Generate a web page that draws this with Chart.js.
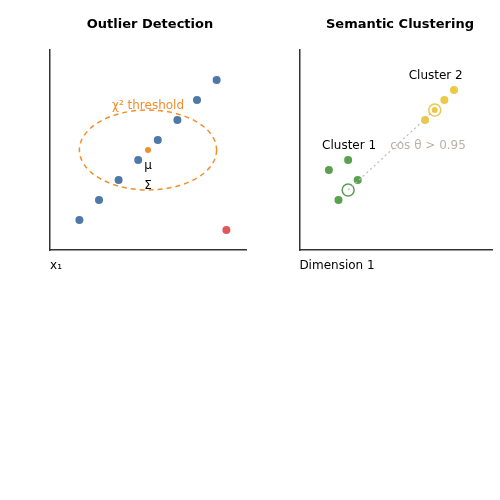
<!DOCTYPE html>
<html>
<head>
<script src="https://cdn.jsdelivr.net/npm/chart.js@4"></script>
<style>
  body { margin: 0; background: #fff; }
  .wrap { position: absolute; top: 0; width: 250px; height: 290px; }
</style>
</head>
<body>
<div class="wrap" style="left:0"><canvas id="left"></canvas></div>
<div class="wrap" style="left:250px"><canvas id="right"></canvas></div>
<script>
// data in plot units (0..200 both axes)
const inliers = [[30, 30], [50, 50], [70, 70], [90, 90], [110, 110], [130, 130], [150, 150], [170, 170]];
const outliers = [[180, 20]];
const meanPt = [[100, 100]];
const ellipse = { cx: 100, cy: 100, rx: 70, ry: 40 };

const cluster1 = [[30, 80], [50, 90], [40, 50], [60, 70]];
const cluster2 = [[130, 130], [150, 150], [160, 160]];
const centroid1 = [[50, 60]];
const centroid2 = [[140, 140]];

const font = 'DejaVu Sans, sans-serif';
const pts = (arr) => arr.map(([x, y]) => ({ x, y }));

const axes = {
  x: { type: 'linear', min: 0, max: 200, ticks: { display: false }, grid: { display: false, drawTicks: false }, border: { color: '#333', width: 1.5 } },
  y: { type: 'linear', min: 0, max: 200, ticks: { display: false }, grid: { display: false, drawTicks: false }, border: { color: '#333', width: 1.5 } },
};

// draw titles and text labels anchored to data coordinates
function textPlugin(title, labels, extra) {
  return {
    id: 'texts',
    afterDraw(chart) {
      const { ctx, scales } = chart;
      ctx.save();
      ctx.fillStyle = '#000';
      ctx.font = 'bold 13px ' + font;
      ctx.textAlign = 'center';
      ctx.textBaseline = 'middle';
      ctx.fillText(title, chart.chartArea.left + 100, 25);
      if (extra) extra(chart);
      labels.forEach((l) => {
        ctx.font = '12px ' + font;
        ctx.fillStyle = l.color;
        ctx.textAlign = 'center';
        const x = l.px != null ? l.px : scales.x.getPixelForValue(l.x);
        const y = l.py != null ? l.py : scales.y.getPixelForValue(l.y);
        ctx.fillText(l.text, x, y);
      });
      ctx.restore();
    },
  };
}

const layout = { padding: { left: 50, right: 0, top: 50, bottom: 40 } };

new Chart(document.getElementById('left'), {
  type: 'scatter',
  data: {
    datasets: [
      { data: pts(inliers), backgroundColor: '#4e79a7', pointRadius: 4, borderWidth: 0 },
      { data: pts(outliers), backgroundColor: '#e15759', pointRadius: 4, borderWidth: 0 },
      { data: pts(meanPt), backgroundColor: '#f28e2b', pointRadius: 3, borderWidth: 0 },
    ],
  },
  options: {
    animation: false, responsive: true, maintainAspectRatio: false, layout,
    plugins: { legend: { display: false }, tooltip: { enabled: false } },
    scales: axes,
  },
  plugins: [textPlugin('Outlier Detection', [
    { text: 'χ² threshold', x: 100, y: 144, color: '#f28e2b' },
    { text: 'μ', x: 100, y: 84, color: '#000' },
    { text: 'Σ', x: 100, y: 64, color: '#000' },
    { text: 'x₂', px: 266, py: 246, color: '#000' },
    { text: 'x₁', px: 56, py: 266, color: '#000' },
  ], (chart) => {
    const { ctx, scales } = chart;
    const cx = scales.x.getPixelForValue(ellipse.cx);
    const cy = scales.y.getPixelForValue(ellipse.cy);
    const rx = scales.x.getPixelForValue(ellipse.cx + ellipse.rx) - cx;
    const ry = cy - scales.y.getPixelForValue(ellipse.cy + ellipse.ry);
    ctx.beginPath();
    ctx.setLineDash([5, 4]);
    ctx.strokeStyle = '#f28e2b';
    ctx.lineWidth = 1.5;
    ctx.ellipse(cx, cy, rx, ry, 0, 0, Math.PI * 2);
    ctx.stroke();
    ctx.setLineDash([]);
  })],
});

new Chart(document.getElementById('right'), {
  type: 'scatter',
  data: {
    datasets: [
      { type: 'line', data: pts([centroid1[0], centroid2[0]]), borderColor: '#bbb', borderDash: [2, 3], borderWidth: 1.2, pointRadius: 0 },
      { data: pts(cluster1), backgroundColor: '#59a14f', pointRadius: 4, borderWidth: 0 },
      { data: pts(cluster2), backgroundColor: '#edc948', pointRadius: 4, borderWidth: 0 },
      { data: pts(centroid1), backgroundColor: 'rgba(0,0,0,0)', borderColor: '#59a14f', pointRadius: 6, borderWidth: 1.5 },
      { data: pts(centroid2), backgroundColor: '#edc948', pointRadius: 3, borderWidth: 0 },
      { data: pts(centroid2), backgroundColor: 'rgba(0,0,0,0)', borderColor: '#edc948', pointRadius: 6, borderWidth: 1.5 },
    ],
  },
  options: {
    animation: false, responsive: true, maintainAspectRatio: false, layout,
    plugins: { legend: { display: false }, tooltip: { enabled: false } },
    scales: axes,
  },
  plugins: [textPlugin('Semantic Clustering', [
    { text: 'Cluster 1', x: 51, y: 104, color: '#000' },
    { text: 'Cluster 2', x: 141, y: 174, color: '#000' },
    { text: 'cos θ > 0.95', x: 133, y: 104, color: '#bab0ac' },
    { text: 'Dimension 1', px: 87, py: 266, color: '#000' },
  ])],
});
</script>
</body>
</html>
